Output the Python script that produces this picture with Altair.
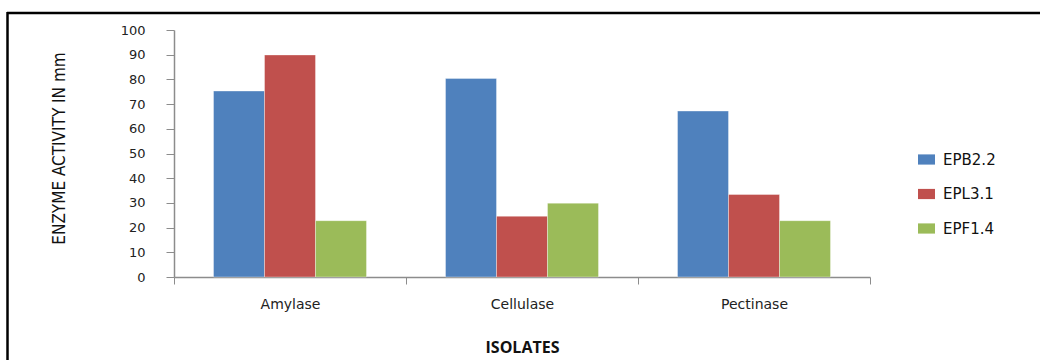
import altair as alt
import pandas as pd

# Enzyme activity (zone diameter, mm) of three isolates on three substrates
enzymes = ["Amylase", "Cellulase", "Pectinase"]
isolates = ["EPB2.2", "EPL3.1", "EPF1.4"]
epb22 = [75.3, 80.4, 67.2]
epl31 = [89.9, 24.6, 33.4]
epf14 = [22.8, 29.9, 22.8]
colors = ["#4F81BD", "#C0504D", "#9BBB59"]
y_ticks = list(range(0, 101, 10))

rows = []
for series_name, values in zip(isolates, [epb22, epl31, epf14]):
    for enzyme, v in zip(enzymes, values):
        rows.append({"enzyme": enzyme, "isolate": series_name, "activity": v})
df = pd.DataFrame(rows)

W, H = 696, 247
PAD_L, PAD_T = 174, 30
TOTAL_W, TOTAL_H = 1040, 360
tick_font = "DejaVu Sans"
axis_gray = "#8C8C8C"

bars = alt.Chart(df).mark_bar(stroke="white", strokeWidth=0.6, strokeOpacity=0.6).encode(
    x=alt.X(
        "enzyme:N",
        sort=enzymes,
        scale=alt.Scale(paddingInner=0, paddingOuter=0),
        axis=alt.Axis(
            title="ISOLATES",
            titleFont="Open Sans",
            titleFontWeight="bold",
            titleFontSize=16,
            titleColor="#111111",
            titleY=70,
            titleBaseline="middle",
            labelAngle=0,
            labelFont=tick_font,
            labelFontSize=14,
            labelColor="#222222",
            labelPadding=13,
            tickBand="extent",
            tickSize=7,
            tickColor=axis_gray,
            domainColor=axis_gray,
            domainWidth=1.5,
            grid=False,
        ),
    ),
    xOffset=alt.XOffset(
        "isolate:N", sort=isolates, scale=alt.Scale(paddingInner=0, paddingOuter=0.775)
    ),
    y=alt.Y(
        "activity:Q",
        scale=alt.Scale(domain=[0, 100], nice=False, zero=True),
        axis=alt.Axis(
            values=y_ticks,
            title="ENZYME ACTIVITY IN mm",
            titleFont="DejaVu Sans Condensed, Liberation Sans Narrow, sans-serif",
            titleFontWeight="normal",
            titleFontSize=17,
            titleColor="#111111",
            titleAngle=-90,
            titleX=-115,
            titleY=118,
            titleAlign="center",
            titleBaseline="middle",
            labelFont=tick_font,
            labelFontSize=13,
            labelColor="#222222",
            labelPadding=21,
            tickSize=8,
            tickColor=axis_gray,
            domainColor=axis_gray,
            domainWidth=1.5,
            grid=False,
        ),
    ),
    color=alt.Color(
        "isolate:N",
        sort=isolates,
        scale=alt.Scale(domain=isolates, range=colors),
        legend=alt.Legend(
            title=None,
            orient="none",
            legendX=744,
            legendY=121,
            padding=0,
            symbolType="M-1,-0.6H1V0.6H-1Z",
            symbolSize=289,
            symbolStrokeWidth=0,
            symbolOpacity=1,
            labelFont=tick_font,
            labelFontSize=15,
            labelColor="#111111",
            labelOffset=8,
            rowPadding=17.5,
        ),
    ),
)

# Black frame along the top and left edges of the figure
frame_src = alt.Data(values=[{"k": 0}])
top_edge = alt.Chart(frame_src).mark_rule(color="black", strokeWidth=2.5).encode(
    x=alt.value(-PAD_L + 7), x2=alt.value(TOTAL_W - PAD_L), y=alt.value(13 - PAD_T)
)
left_edge = alt.Chart(frame_src).mark_rule(color="black", strokeWidth=2.5).encode(
    x=alt.value(7.5 - PAD_L), y=alt.value(12 - PAD_T), y2=alt.value(TOTAL_H - PAD_T)
)

chart = (
    alt.layer(bars, top_edge, left_edge)
    .properties(
        width=W,
        height=H,
        autosize=alt.AutoSizeParams(type="none"),
        padding={"left": PAD_L, "top": PAD_T, "right": TOTAL_W - PAD_L - W, "bottom": TOTAL_H - PAD_T - H},
        background="white",
    )
    .configure_view(stroke=None)
)

chart.save("out.html", embed_options={"renderer": "svg", "actions": False})
